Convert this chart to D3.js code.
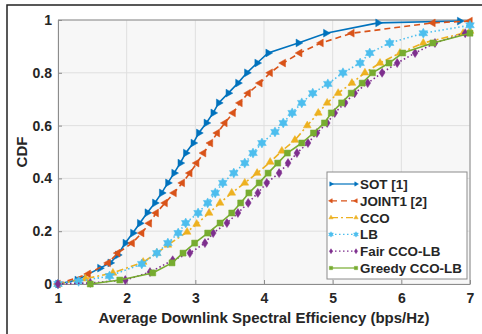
<!DOCTYPE html>
<html>
<head>
<meta charset="utf-8">
<script src="https://cdn.jsdelivr.net/npm/d3@7"></script>
<style>
  body { margin: 0; background: #fff; }
  text { font-family: "Liberation Sans", Arial, sans-serif; font-weight: bold; fill: #262626; }
</style>
</head>
<body>
<script>
// CDF curves (x = spectral efficiency, y = CDF)
var sotX = [1.00,1.28,1.61,1.76,1.87,1.98,2.09,2.19,2.30,2.41,2.51,2.60,2.69,2.78,2.86,2.97,3.05,3.16,3.26,3.34,3.48,3.62,3.75,3.90,4.06,4.50,4.90,5.66,6.85];
var sotY = [0,0.015,0.06,0.08,0.11,0.155,0.193,0.23,0.27,0.307,0.345,0.383,0.42,0.458,0.496,0.534,0.572,0.61,0.648,0.686,0.723,0.761,0.80,0.837,0.875,0.913,0.95,0.989,0.996];

var jointX = [1.00,1.44,1.73,1.87,2.08,2.22,2.33,2.43,2.56,2.69,2.81,2.92,3.02,3.12,3.22,3.32,3.43,3.55,3.65,3.77,3.94,4.09,4.28,4.52,4.83,5.28,6.46,7.00];
var jointY = [0,0.038,0.08,0.117,0.155,0.193,0.23,0.269,0.307,0.345,0.383,0.42,0.458,0.496,0.534,0.572,0.61,0.648,0.686,0.723,0.761,0.80,0.837,0.875,0.913,0.95,0.989,0.996];

var ccoX = [1.00,1.40,1.80,2.24,2.44,2.60,2.88,3.02,3.20,3.36,3.53,3.72,3.90,4.09,4.26,4.45,4.63,4.79,4.92,5.08,5.28,5.47,5.69,5.98,6.32,6.90,7.00];
var ccoY = [0,0.02,0.042,0.083,0.117,0.148,0.197,0.227,0.269,0.307,0.345,0.383,0.42,0.462,0.504,0.545,0.60,0.648,0.686,0.723,0.761,0.80,0.837,0.875,0.913,0.95,0.958];

var lbX = [1.00,1.30,1.75,2.22,2.44,2.60,2.75,2.86,3.04,3.18,3.29,3.40,3.56,3.72,3.84,3.97,4.16,4.28,4.41,4.55,4.71,4.93,5.15,5.40,5.54,5.83,6.32,7.00];
var lbY = [0,0.01,0.03,0.076,0.117,0.155,0.193,0.231,0.269,0.307,0.345,0.383,0.42,0.458,0.496,0.534,0.576,0.61,0.648,0.686,0.723,0.758,0.80,0.837,0.875,0.913,0.95,0.98];

var fairX = [1.00,1.47,1.98,2.34,2.67,2.92,3.14,3.26,3.46,3.62,3.77,3.91,4.04,4.22,4.35,4.48,4.64,4.77,4.92,5.03,5.18,5.32,5.51,5.72,5.94,6.20,6.49,6.93];
var fairY = [0,0.004,0.015,0.045,0.09,0.117,0.155,0.193,0.231,0.269,0.307,0.345,0.383,0.42,0.458,0.496,0.534,0.572,0.61,0.648,0.686,0.723,0.761,0.80,0.837,0.875,0.913,0.95];

var greedyX = [1.47,1.90,2.38,2.66,2.82,2.99,3.18,3.36,3.53,3.66,3.78,3.93,4.06,4.20,4.34,4.55,4.72,4.88,4.98,5.13,5.27,5.43,5.58,5.82,6.02,6.46,7.00];
var greedyY = [0,0.015,0.042,0.08,0.117,0.155,0.193,0.231,0.269,0.307,0.345,0.383,0.42,0.458,0.496,0.534,0.572,0.61,0.648,0.686,0.723,0.761,0.80,0.837,0.875,0.913,0.95];

var names = ["SOT [1]", "JOINT1 [2]", "CCO", "LB", "Fair CCO-LB", "Greedy CCO-LB"];
var xTicks = [1, 2, 3, 4, 5, 6, 7];
var yTicks = [0, 0.2, 0.4, 0.6, 0.8, 1];

//Width and height
var w = 482;
var h = 334;
var plot = {left: 58, right: 470, top: 20, bottom: 284};

var x = d3.scaleLinear().domain([1, 7]).range([plot.left, plot.right]);
var y = d3.scaleLinear().domain([0, 1]).range([plot.bottom, plot.top]);

// marker shapes
function triPath(r, angle) {
    var pts = [0, 1, 2].map(function(i) {
        var a = angle + i * 2 * Math.PI / 3;
        return [r * Math.cos(a), r * Math.sin(a)];
    });
    return "M" + pts.join("L") + "Z";
}
function hexagram(r) {
    var pts = [];
    for (var i = 0; i < 12; i++) {
        var rr = i % 2 ? r / Math.sqrt(3) : r;
        var a = -Math.PI / 2 + i * Math.PI / 6;
        pts.push([rr * Math.cos(a), rr * Math.sin(a)]);
    }
    return "M" + pts.join("L") + "Z";
}
function diamond(r) {
    return "M0," + (-r) + "L" + (r * 0.65) + ",0L0," + r + "L" + (-r * 0.65) + ",0Z";
}
function square(r) {
    return "M" + (-r) + "," + (-r) + "H" + r + "V" + r + "H" + (-r) + "Z";
}

var series = [
    {xs: sotX, ys: sotY, color: "#0072BD", dash: null, marker: function(s) { return triPath(4.5 * s, 0); }},
    {xs: jointX, ys: jointY, color: "#D95319", dash: "6,4", marker: function(s) { return triPath(4.5 * s, Math.PI); }},
    {xs: ccoX, ys: ccoY, color: "#EDB120", dash: "7,3,2,3", marker: function(s) { return triPath(4.5 * s, -Math.PI / 2); }},
    {xs: lbX, ys: lbY, color: "#4DBEEE", dash: "1.5,2.5", marker: function(s) { return hexagram(5 * s); }},
    {xs: fairX, ys: fairY, color: "#7E2F8E", dash: "1.5,2.5", marker: function(s) { return diamond(4.5 * s); }},
    {xs: greedyX, ys: greedyY, color: "#77AC30", dash: null, marker: function(s) { return square(3 * s); }}
];
series.forEach(function(d, i) {
    d.name = names[i];
    d.points = d.xs.map(function(v, k) { return [v, d.ys[k]]; });
});

//Create SVG element
var svg = d3.select("body")
            .append("svg")
            .attr("width", w)
            .attr("height", h);

svg.append("rect").attr("width", w).attr("height", h).attr("fill", "#fff");

// outer figure frame (only left and top edges are in view)
svg.append("path")
    .attr("d", "M7," + h + "V5H" + w)
    .attr("fill", "none")
    .attr("stroke", "#222")
    .attr("stroke-width", 1.5);

// plot background
svg.append("rect")
    .attr("x", plot.left)
    .attr("y", plot.top)
    .attr("width", plot.right - plot.left)
    .attr("height", plot.bottom - plot.top)
    .attr("fill", "#f7f7f7");

// grid
var grid = svg.append("g").attr("stroke", "#dfdfdf").attr("stroke-width", 1);
grid.selectAll(".gx").data(xTicks).enter().append("line")
    .attr("x1", function(d) { return x(d); }).attr("x2", function(d) { return x(d); })
    .attr("y1", plot.top).attr("y2", plot.bottom);
grid.selectAll(".gy").data(yTicks).enter().append("line")
    .attr("y1", function(d) { return y(d); }).attr("y2", function(d) { return y(d); })
    .attr("x1", plot.left).attr("x2", plot.right);

// axes with inward ticks
var xAxis = svg.append("g")
    .attr("transform", "translate(0," + plot.bottom + ")")
    .call(d3.axisBottom(x).tickValues(xTicks).tickFormat(d3.format("d")).tickSizeInner(-4).tickSizeOuter(0).tickPadding(9));
var yAxis = svg.append("g")
    .attr("transform", "translate(" + plot.left + ",0)")
    .call(d3.axisLeft(y).tickValues(yTicks).tickFormat(function(d) { return d3.format("")(d); }).tickSizeInner(-4).tickSizeOuter(0).tickPadding(6));
[xAxis, yAxis].forEach(function(a) {
    a.select(".domain").attr("stroke", "#8c8c8c");
    a.selectAll(".tick line").attr("stroke", "#8c8c8c");
    a.selectAll(".tick text").attr("font-size", "14px").attr("fill", "#262626")
        .style("font-family", "'Liberation Sans', Arial, sans-serif").style("font-weight", "bold");
});

// top and right box edges
svg.append("path")
    .attr("d", "M" + plot.left + "," + plot.top + "H" + plot.right + "V" + plot.bottom)
    .attr("fill", "none")
    .attr("stroke", "#8c8c8c");

// curves
var line = d3.line()
    .x(function(d) { return x(d[0]); })
    .y(function(d) { return y(d[1]); });

var curves = svg.append("g");
series.forEach(function(s) {
    curves.append("path")
        .attr("d", line(s.points))
        .attr("fill", "none")
        .attr("stroke", s.color)
        .attr("stroke-width", 1.6)
        .attr("stroke-dasharray", s.dash);
    curves.selectAll(null)
        .data(s.points)
        .enter()
        .append("path")
        .attr("transform", function(d) { return "translate(" + x(d[0]) + "," + y(d[1]) + ")"; })
        .attr("d", s.marker(1))
        .attr("fill", s.color)
        .attr("stroke", s.color)
        .attr("stroke-width", 0.5);
});

// axis labels
svg.append("text")
    .attr("x", (plot.left + plot.right) / 2)
    .attr("y", 323)
    .attr("text-anchor", "middle")
    .attr("font-size", "15px")
    .text("Average Downlink Spectral Efficiency (bps/Hz)");

svg.append("text")
    .attr("transform", "translate(27," + ((plot.top + plot.bottom) / 2) + ") rotate(-90)")
    .attr("text-anchor", "middle")
    .attr("font-size", "15px")
    .text("CDF");

// legend
var legend = svg.append("g").attr("class", "legend");
legend.append("rect")
    .attr("x", 327).attr("y", 172)
    .attr("width", 140).attr("height", 107)
    .attr("fill", "#fff")
    .attr("stroke", "#8c8c8c");

series.forEach(function(s, i) {
    var ly = 184 + i * 16.8;
    legend.append("line")
        .attr("x1", 331).attr("x2", 356)
        .attr("y1", ly).attr("y2", ly)
        .attr("stroke", s.color)
        .attr("stroke-width", 1.2)
        .attr("stroke-dasharray", s.dash);
    [331, 356].forEach(function(mx) {
        legend.append("path")
            .attr("transform", "translate(" + mx + "," + ly + ")")
            .attr("d", s.marker(0.55))
            .attr("fill", s.color)
            .attr("stroke", s.color)
            .attr("stroke-width", 0.5);
    });
    legend.append("text")
        .attr("x", 360)
        .attr("y", ly + 5)
        .attr("font-size", "13.4px")
        .text(s.name);
});
</script>
</body>
</html>
